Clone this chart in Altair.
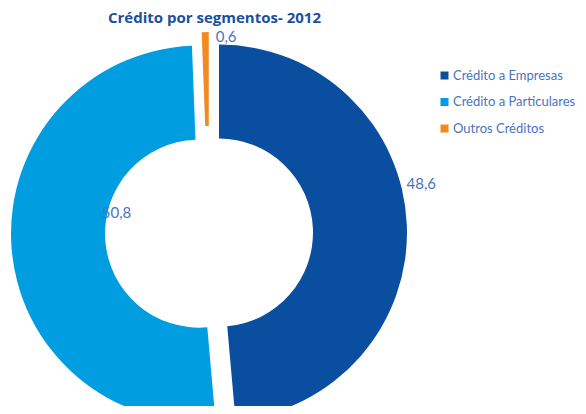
import altair as alt
import pandas as pd

# ---- data ----
categories = ["Crédito a Empresas", "Crédito a Particulares", "Outros Créditos"]
values = [48.6, 50.8, 0.6]

# ---- styles ----
colors = ["#0a4ea0", "#009de0", "#f28a1e"]
explode = [10, 10, 13]          # px each slice is pulled out
label_r = [208, 85, 184]        # label distance from slice centre
label_shift = [-11, 17.6, 6.5]  # label angle nudge (deg) from slice mid-angle

CX, CY = 201, 225
R_OUT, R_IN = 188, 94
TEXT_BLUE = "#4a74bd"

df = pd.DataFrame({
    "cat": categories,
    "value": values,
    "order": list(range(len(categories))),
    "ex": explode,
    "lr": label_r,
    "ls": label_shift,
})

base = (
    alt.Chart(df)
    .transform_joinaggregate(total="sum(value)")
    .transform_window(cum="sum(value)", sort=[alt.SortField("order")], frame=[None, 0])
    .transform_calculate(t1="2*PI*datum.cum/datum.total")
    .transform_calculate(t0="2*PI*(datum.cum-datum.value)/datum.total")
    .transform_calculate(mid="(datum.t0+datum.t1)/2")
    .transform_calculate(ox=f"{CX}+datum.ex*sin(datum.mid)")
    .transform_calculate(oy=f"{CY}-datum.ex*cos(datum.mid)")
    .transform_calculate(la="datum.mid+datum.ls*PI/180")
    .transform_calculate(lx="datum.ox+datum.lr*sin(datum.la)")
    .transform_calculate(ly="datum.oy-datum.lr*cos(datum.la)")
    .transform_calculate(lab="replace(format(datum.value,'.1f'),'.',',')")
)

arcs = base.mark_arc(radius=R_OUT, radius2=R_IN).encode(
    theta=alt.Theta("t0:Q", scale=None),
    theta2="t1:Q",
    x=alt.X("ox:Q", scale=None),
    y=alt.Y("oy:Q", scale=None),
    color=alt.Color(
        "cat:N",
        scale=alt.Scale(domain=categories, range=colors),
        legend=alt.Legend(
            title=None,
            orient="none",
            legendX=430,
            legendY=61,
            padding=0,
            symbolType="square",
            symbolSize=64,
            symbolStrokeWidth=0,
            labelColor=TEXT_BLUE,
            labelFont="Lato",
            labelFontSize=13,
            labelOffset=2,
            rowPadding=12.5,
            labelLimit=200,
        ),
    ),
)

labels = base.mark_text(
    font="Lato", fontSize=15, color=TEXT_BLUE, align="center", baseline="middle"
).encode(
    x=alt.X("lx:Q", scale=None),
    y=alt.Y("ly:Q", scale=None),
    text="lab:N",
)

chart = (
    alt.layer(arcs, labels)
    .properties(
        width=570,
        height=398,
        autosize=alt.AutoSizeParams(type="none"),
        padding=0,
        title=alt.TitleParams(
            "Crédito por segmentos- 2012",
            anchor="start",
            frame="group",
            dx=100,
            dy=18,
            offset=0,
            font="Open Sans",
            fontSize=15,
            fontWeight="bold",
            color="#1d4f9e",
        ),
        background="white",
    )
    .configure_view(stroke=None)
)

chart.save("out.html", embed_options={"renderer": "svg", "actions": False})
